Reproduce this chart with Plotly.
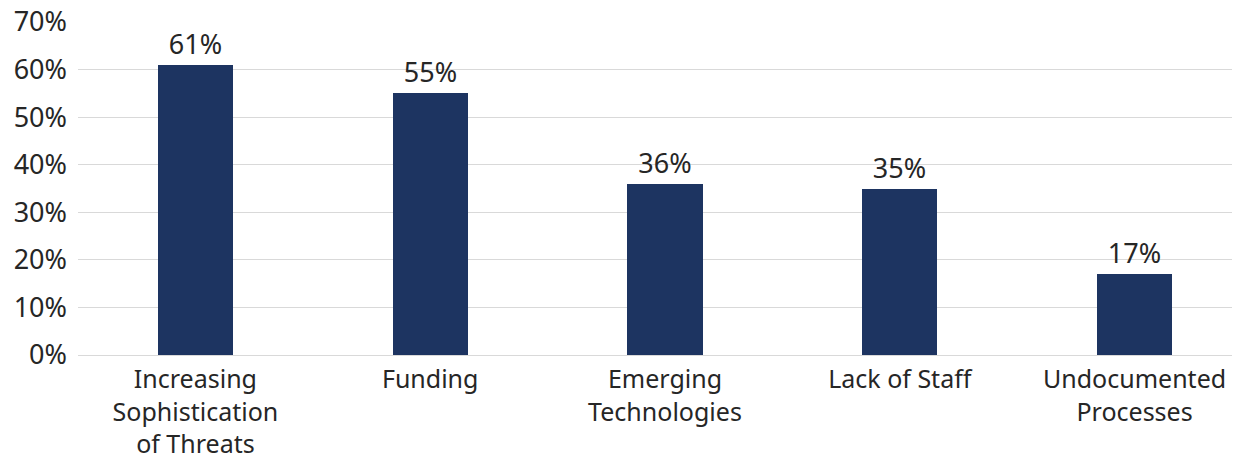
import plotly.graph_objects as go

categories = [
    "Increasing<br>Sophistication<br>of Threats",
    "Funding",
    "Emerging<br>Technologies",
    "Lack of Staff",
    "Undocumented<br>Processes",
]
values = [61, 55, 36, 35, 17]
y_ticks = [0, 10, 20, 30, 40, 50, 60, 70]
y_tick_labels = [f"{v}%" for v in y_ticks]

FONT = "Noto Sans, Open Sans, sans-serif"
TEXT_COLOR = "#262626"

fig = go.Figure(
    go.Bar(
        x=list(range(len(categories))),
        y=values,
        width=0.32,
        marker=dict(color="#1D3461", line=dict(width=0)),
        text=[f"{v}%" for v in values],
        textposition="outside",
        cliponaxis=False,
        textfont=dict(family=FONT, size=27, color=TEXT_COLOR),
    )
)

fig.update_layout(
    width=1254,
    height=459,
    margin=dict(l=78, r=22, t=22, b=104),
    paper_bgcolor="white",
    plot_bgcolor="white",
    showlegend=False,
    font=dict(family=FONT, size=25, color=TEXT_COLOR),
    bargap=0,
)

fig.update_xaxes(
    tickmode="array",
    tickvals=list(range(len(categories))),
    ticktext=categories,
    range=[-0.5, 4.415],
    automargin=False,
    showgrid=False,
    showline=True,
    linecolor="#D9D9D9",
    linewidth=1,
    ticks="",
    tickangle=0,
    ticklabelstandoff=2,
    tickfont=dict(family=FONT, size=25, color=TEXT_COLOR),
)

fig.update_yaxes(
    range=[0, 70],
    tickmode="array",
    tickvals=y_ticks,
    ticktext=y_tick_labels,
    automargin=False,
    showgrid=True,
    gridcolor="#D9D9D9",
    gridwidth=1,
    zeroline=False,
    showline=False,
    ticks="",
    ticklabelstandoff=10,
    tickfont=dict(family=FONT, size=27, color=TEXT_COLOR),
)

fig.write_html("out.html")
